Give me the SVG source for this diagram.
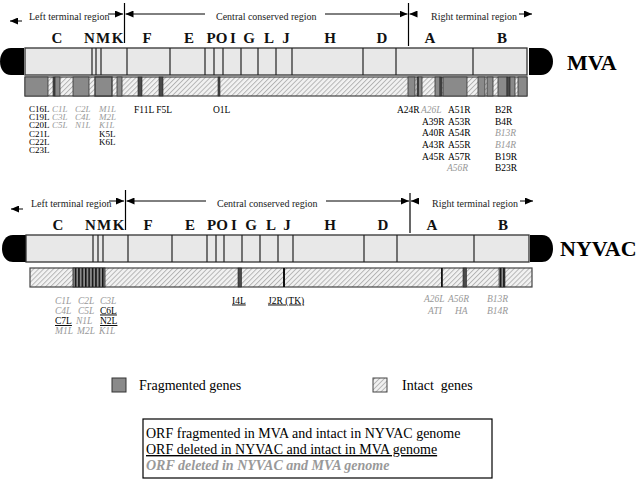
<svg xmlns="http://www.w3.org/2000/svg" width="643" height="481" viewBox="0 0 643 481">
<defs>
<pattern id="hatch" width="3.5" height="3.5" patternUnits="userSpaceOnUse" patternTransform="rotate(45)">
<rect width="3.5" height="3.5" fill="#f2f2f2"/>
<line x1="0.5" y1="0" x2="0.5" y2="3.5" stroke="#b0b0b0" stroke-width="0.9"/>
</pattern>
<pattern id="stripe" width="3.4" height="20" patternUnits="userSpaceOnUse">
<rect width="3.4" height="20" fill="#8a8a8a"/>
<rect width="1.5" height="20" fill="#111"/>
</pattern>
<marker id="ah" markerWidth="8" markerHeight="7" refX="8" refY="3.5" orient="auto" markerUnits="userSpaceOnUse">
<path d="M0,0 L8,3.5 L0,7 z" fill="#000"/>
</marker>
</defs>
<style>
text{font-family:"Liberation Serif","Times New Roman",serif;}
.hdr{font-size:10px;fill:#222;}
.gl{font-size:15px;font-weight:bold;text-anchor:middle;fill:#111;}
.big{font-size:22px;font-weight:bold;fill:#000;}
.lb{font-size:9.5px;fill:#000;}
.gi{font-size:9.5px;fill:#999;font-style:italic;}
.sm{font-size:9px;}
.ul{text-decoration:underline;}
.ar{stroke:#000;stroke-width:1;fill:none;marker-end:url(#ah);}
.vl{stroke:#000;stroke-width:1.2;}
.bar{fill:#e8e8e8;stroke:#333;stroke-width:1.3;}
.dv{stroke:#222;stroke-width:1.2;}
.hb{fill:url(#hatch);stroke:#444;stroke-width:1.2;}
.fr{fill:#8a8a8a;stroke:#333;stroke-width:0.8;}
.dk{fill:#4a4a4a;stroke:#222;stroke-width:0.6;}
.cap{fill:#000;}
.leg{font-size:14px;fill:#000;}
</style>

<g id="connectors">
<line class="ar" x1="22" y1="21" x2="10" y2="21"/>
<line class="ar" x1="108" y1="14" x2="123" y2="14"/>
<line class="ar" x1="205" y1="14" x2="125.5" y2="14"/>
<line class="ar" x1="325" y1="14" x2="407.5" y2="14"/>
<line class="ar" x1="417" y1="14" x2="409.5" y2="14"/>
<line class="ar" x1="519" y1="14" x2="532" y2="14"/>
<line class="vl" x1="124.5" y1="3" x2="124.5" y2="43"/>
<line class="vl" x1="408.5" y1="3" x2="408.5" y2="46"/>
<line class="ar" x1="23" y1="209" x2="11" y2="209"/>
<line class="ar" x1="109" y1="201" x2="124" y2="201"/>
<line class="ar" x1="206" y1="201" x2="126.5" y2="201"/>
<line class="ar" x1="326" y1="201" x2="409" y2="201"/>
<line class="ar" x1="418" y1="201" x2="411" y2="201"/>
<line class="ar" x1="520" y1="201" x2="533" y2="201"/>
<line class="vl" x1="125.5" y1="190" x2="125.5" y2="230"/>
<line class="vl" x1="410" y1="193" x2="410" y2="233"/>
</g>

<g id="mva-header">
<text class="hdr" x="29" y="19.5">Left terminal region</text>
<text class="hdr" x="216" y="19.5">Central conserved region</text>
<text class="hdr" x="431" y="20">Right terminal region</text>
<text class="gl" x="57" y="43">C</text>
<text class="gl" x="89.5" y="43">N</text>
<text class="gl" x="103" y="43">M</text>
<text class="gl" x="117.5" y="43">K</text>
<text class="gl" x="147" y="43">F</text>
<text class="gl" x="189" y="43">E</text>
<text class="gl" x="211" y="43">P</text>
<text class="gl" x="221.5" y="43">O</text>
<text class="gl" x="233" y="43">I</text>
<text class="gl" x="249" y="43">G</text>
<text class="gl" x="269" y="43">L</text>
<text class="gl" x="286" y="43">J</text>
<text class="gl" x="330" y="43">H</text>
<text class="gl" x="382" y="43">D</text>
<text class="gl" x="430" y="43">A</text>
<text class="gl" x="502" y="43">B</text>
</g>

<g id="mva-genome">
<path class="cap" d="M24,48 H11 C4,48 0,54 0,61.5 C0,69 4,75 11,75 H24 Z"/>
<path class="cap" d="M529,48 H541 C548,48 553,54 553,61.5 C553,69 548,75 541,75 H529 Z"/>
<rect class="bar" x="25" y="48" width="502" height="27"/>
<g class="dv">
<line x1="92" y1="48" x2="92" y2="75"/><line x1="96" y1="48" x2="96" y2="75"/><line x1="101" y1="48" x2="101" y2="75"/>
<line x1="127" y1="48" x2="127" y2="75"/><line x1="170" y1="48" x2="170" y2="75"/><line x1="205" y1="48" x2="205" y2="75"/>
<line x1="214" y1="48" x2="214" y2="75"/><line x1="223" y1="48" x2="223" y2="75"/><line x1="241" y1="48" x2="241" y2="75"/>
<line x1="258" y1="48" x2="258" y2="75"/><line x1="276" y1="48" x2="276" y2="75"/><line x1="292" y1="48" x2="292" y2="75"/>
<line x1="363" y1="48" x2="363" y2="75"/><line x1="396" y1="48" x2="396" y2="75"/><line x1="473" y1="48" x2="473" y2="75"/>
</g>
<text class="big" x="567" y="70">MVA</text>
</g>

<g id="mva-genes">
<rect class="hb" x="25" y="77" width="502" height="19"/>
<rect class="fr" x="25" y="77" width="23" height="19"/>
<rect class="dk" x="53" y="77" width="2" height="19"/>
<rect class="fr" x="55" y="77" width="5" height="19"/>
<rect class="fr" x="73" y="77" width="16" height="19"/>
<rect class="fr" x="95" y="77" width="17" height="19" style="stroke-width:1.3"/>
<rect class="fr" x="117" y="77" width="5" height="19"/>
<rect class="dk" x="138" y="77" width="4" height="19"/>
<rect class="dk" x="159" y="77" width="4" height="19"/>
<rect class="dk" x="218" y="77" width="2" height="19"/>
<rect class="fr" x="408" y="77" width="7" height="19"/>
<rect class="dk" x="417" y="77" width="1.5" height="19"/>
<rect class="fr" x="418.5" y="77" width="3.5" height="19"/>
<rect class="fr" x="435" y="77" width="5" height="19"/>
<rect class="dk" x="440" y="77" width="2" height="19"/>
<rect class="fr" x="443" y="77" width="24" height="19"/>
<rect class="fr" x="478" y="77" width="7" height="19"/>
<rect class="fr" x="487" y="77" width="6" height="19"/>
<rect class="fr" x="498" y="77" width="9" height="19"/>
<rect class="dk" x="507" y="77" width="3" height="19"/>
<rect class="fr" x="510" y="77" width="5" height="19"/>
<rect class="fr" x="518" y="77" width="9" height="19"/>
</g>

<g id="mva-labels">
<text class="lb sm" x="29" y="112">C16L</text>
<text class="lb sm" x="29" y="120.2">C19L</text>
<text class="lb sm" x="29" y="128.4">C20L</text>
<text class="lb sm" x="29" y="136.6">C21L</text>
<text class="lb sm" x="29" y="144.8">C22L</text>
<text class="lb sm" x="29" y="153">C23L</text>
<text class="gi sm" x="52" y="112">C1L</text>
<text class="gi sm" x="75" y="112">C2L</text>
<text class="gi sm" x="52" y="120.2">C3L</text>
<text class="gi sm" x="75" y="120.2">C4L</text>
<text class="gi sm" x="52" y="128.4">C5L</text>
<text class="gi sm" x="75" y="128.4">N1L</text>
<text class="gi sm" x="99" y="112">M1L</text>
<text class="gi sm" x="99" y="120.2">M2L</text>
<text class="gi sm" x="99" y="128.4">K1L</text>
<text class="lb sm" x="99" y="136.6">K5L</text>
<text class="lb sm" x="99" y="144.8">K6L</text>
<text class="lb" x="134" y="112.5">F11L F5L</text>
<text class="lb" x="213" y="112.5">O1L</text>
<text class="lb" x="397" y="112.5">A24R</text>
<text class="gi" x="421" y="112.5">A26L</text>
<text class="lb" x="448" y="112.5">A51R</text>
<text class="lb" x="422" y="124.5">A39R</text>
<text class="lb" x="448" y="124.5">A53R</text>
<text class="lb" x="422" y="136">A40R</text>
<text class="lb" x="448" y="136">A54R</text>
<text class="lb" x="422" y="147.5">A43R</text>
<text class="lb" x="448" y="147.5">A55R</text>
<text class="lb" x="422" y="159.5">A45R</text>
<text class="lb" x="448" y="159.5">A57R</text>
<text class="gi" x="447" y="171">A56R</text>
<text class="lb" x="495" y="112.5">B2R</text>
<text class="lb" x="495" y="124.5">B4R</text>
<text class="gi" x="495" y="136">B13R</text>
<text class="gi" x="495" y="147.5">B14R</text>
<text class="lb" x="495" y="159.5">B19R</text>
<text class="lb" x="495" y="171">B23R</text>
</g>

<g id="nyvac-header">
<text class="hdr" x="31" y="207">Left terminal region</text>
<text class="hdr" x="217" y="207">Central conserved region</text>
<text class="hdr" x="432" y="207">Right terminal region</text>
<text class="gl" x="58" y="230">C</text>
<text class="gl" x="90.5" y="230">N</text>
<text class="gl" x="104" y="230">M</text>
<text class="gl" x="118.5" y="230">K</text>
<text class="gl" x="148" y="230">F</text>
<text class="gl" x="190" y="230">E</text>
<text class="gl" x="211.5" y="230">P</text>
<text class="gl" x="222" y="230">O</text>
<text class="gl" x="234" y="230">I</text>
<text class="gl" x="251" y="230">G</text>
<text class="gl" x="271" y="230">L</text>
<text class="gl" x="287" y="230">J</text>
<text class="gl" x="330" y="230">H</text>
<text class="gl" x="383" y="230">D</text>
<text class="gl" x="432" y="230">A</text>
<text class="gl" x="503" y="230">B</text>
</g>

<g id="nyvac-genome">
<path class="cap" d="M26,235 H13 C6,235 2,241 2,248.5 C2,256 6,262 13,262 H26 Z"/>
<path class="cap" d="M530,235 H542 C549,235 553,241 553,248.5 C553,256 549,262 542,262 H530 Z"/>
<rect class="bar" x="26" y="235" width="503" height="27"/>
<g class="dv">
<line x1="93" y1="235" x2="93" y2="262"/><line x1="98" y1="235" x2="98" y2="262"/><line x1="103" y1="235" x2="103" y2="262"/>
<line x1="128" y1="235" x2="128" y2="262"/><line x1="172" y1="235" x2="172" y2="262"/><line x1="207" y1="235" x2="207" y2="262"/>
<line x1="216" y1="235" x2="216" y2="262"/><line x1="224" y1="235" x2="224" y2="262"/><line x1="242" y1="235" x2="242" y2="262"/>
<line x1="260" y1="235" x2="260" y2="262"/><line x1="278" y1="235" x2="278" y2="262"/><line x1="293" y1="235" x2="293" y2="262"/>
<line x1="364" y1="235" x2="364" y2="262"/><line x1="397" y1="235" x2="397" y2="262"/><line x1="474" y1="235" x2="474" y2="262"/>
</g>
<text class="big" x="560" y="256">NYVAC</text>
</g>

<g id="nyvac-genes">
<rect class="hb" x="30" y="268" width="502" height="19"/>
<rect x="73" y="268" width="32" height="19" fill="url(#stripe)" stroke="#222" stroke-width="0.8"/>
<rect class="dk" x="238" y="268" width="3.5" height="19"/>
<rect x="283" y="268" width="2" height="19" fill="#111"/>
<rect x="441" y="268" width="1.8" height="19" fill="#111"/>
<rect class="dk" x="463" y="268" width="3.5" height="19"/>
<rect x="499" y="268" width="6" height="19" fill="url(#stripe)" stroke="#222" stroke-width="0.6"/>
</g>

<g id="nyvac-labels">
<text class="gi" x="55" y="303.5">C1L</text>
<text class="gi" x="78" y="303.5">C2L</text>
<text class="gi" x="100" y="303.5">C3L</text>
<text class="gi" x="55" y="313.5">C4L</text>
<text class="gi" x="78" y="313.5">C5L</text>
<text class="lb ul" x="100" y="313.5">C6L</text>
<text class="lb ul" x="55" y="324">C7L</text>
<text class="gi" x="76" y="324">N1L</text>
<text class="lb ul" x="100" y="324">N2L</text>
<text class="gi" x="55" y="334">M1L</text>
<text class="gi" x="77" y="334">M2L</text>
<text class="gi" x="99" y="334">K1L</text>
<text class="lb ul" x="232" y="303.5">I4L</text>
<text class="lb ul" x="268" y="303.5">J2R (TK)</text>
<text class="gi" x="424" y="302">A26L</text>
<text class="gi" x="448" y="302">A56R</text>
<text class="gi" x="487" y="302">B13R</text>
<text class="gi" x="428" y="314">ATI</text>
<text class="gi" x="455" y="314">HA</text>
<text class="gi" x="487" y="314">B14R</text>
</g>

<g id="legend">
<rect x="112" y="378" width="14" height="14" fill="#8a8a8a" stroke="#333" stroke-width="1"/>
<text class="leg" x="139" y="390">Fragmented genes</text>
<rect x="373" y="378" width="14" height="14" fill="url(#hatch)" stroke="#444" stroke-width="1"/>
<text class="leg" x="402" y="390" style="white-space:pre">Intact  genes</text>
</g>

<g id="key-box">
<rect x="143" y="419" width="349" height="59" fill="#fff" stroke="#000" stroke-width="1.2"/>
<text class="leg" x="146" y="438">ORF fragmented in MVA and intact in NYVAC genome</text>
<text class="leg ul" x="146" y="454">ORF deleted in NYVAC and intact in MVA genome</text>
<text class="leg" x="146" y="470" style="fill:#999;font-weight:bold;font-style:italic">ORF deleted in NYVAC and MVA genome</text>
</g>
</svg>
